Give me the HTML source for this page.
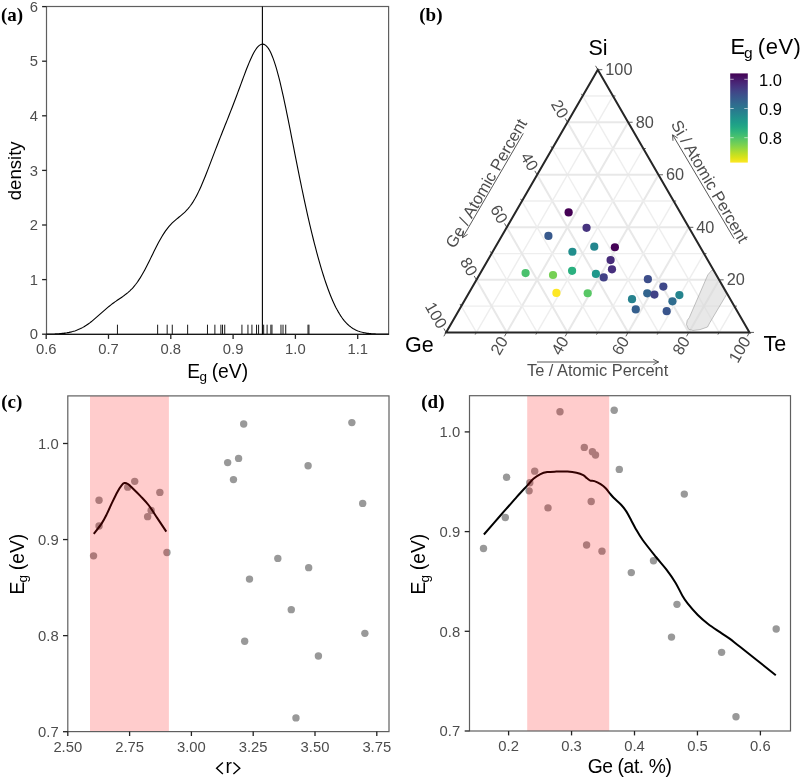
<!DOCTYPE html>
<html><head><meta charset="utf-8"><style>
html,body{margin:0;padding:0;background:#fff;}
svg{display:block;will-change:transform;}
</style></head><body>
<svg width="800" height="778" viewBox="0 0 800 778">
<rect width="800" height="778" fill="#fff"/>
<rect x="46.5" y="6.5" width="342.1" height="327.9" fill="none" stroke="#5f5f5f" stroke-width="1.2"/>
<polyline points="46.2,334.13 47.35,334.11 48.49,334.09 49.64,334.07 50.78,334.05 51.93,334.02 53.08,333.98 54.22,333.94 55.37,333.9 56.51,333.84 57.66,333.78 58.81,333.71 59.95,333.63 61.1,333.53 62.24,333.42 63.39,333.3 64.54,333.16 65.68,333 66.83,332.83 67.97,332.63 69.12,332.41 70.27,332.16 71.41,331.89 72.56,331.59 73.7,331.26 74.85,330.9 76,330.51 77.14,330.08 78.29,329.61 79.43,329.11 80.58,328.57 81.73,327.99 82.87,327.37 84.02,326.71 85.16,326.01 86.31,325.28 87.46,324.5 88.6,323.69 89.75,322.85 90.89,321.97 92.04,321.06 93.19,320.13 94.33,319.17 95.48,318.19 96.62,317.19 97.77,316.18 98.92,315.16 100.06,314.14 101.21,313.12 102.35,312.09 103.5,311.08 104.65,310.08 105.79,309.09 106.94,308.11 108.08,307.16 109.23,306.23 110.38,305.32 111.52,304.43 112.67,303.56 113.81,302.72 114.96,301.9 116.11,301.09 117.25,300.3 118.4,299.51 119.54,298.73 120.69,297.95 121.84,297.17 122.98,296.36 124.13,295.54 125.27,294.68 126.42,293.79 127.57,292.86 128.71,291.87 129.86,290.83 131,289.71 132.15,288.53 133.29,287.27 134.44,285.93 135.59,284.5 136.73,282.98 137.88,281.37 139.02,279.67 140.17,277.89 141.32,276.01 142.46,274.06 143.61,272.02 144.75,269.92 145.9,267.75 147.05,265.53 148.19,263.26 149.34,260.95 150.48,258.62 151.63,256.28 152.78,253.94 153.92,251.6 155.07,249.29 156.21,247.01 157.36,244.78 158.51,242.61 159.65,240.49 160.8,238.46 161.94,236.5 163.09,234.63 164.24,232.85 165.38,231.16 166.53,229.57 167.67,228.07 168.82,226.66 169.97,225.34 171.11,224.11 172.26,222.95 173.4,221.86 174.55,220.82 175.7,219.84 176.84,218.89 177.99,217.96 179.13,217.04 180.28,216.11 181.43,215.17 182.57,214.2 183.72,213.18 184.86,212.11 186.01,210.96 187.16,209.74 188.3,208.42 189.45,207.01 190.59,205.49 191.74,203.86 192.89,202.11 194.03,200.24 195.18,198.26 196.32,196.16 197.47,193.94 198.62,191.62 199.76,189.18 200.91,186.65 202.05,184.03 203.2,181.33 204.35,178.55 205.49,175.71 206.64,172.82 207.78,169.88 208.93,166.91 210.08,163.92 211.22,160.92 212.37,157.91 213.51,154.9 214.66,151.89 215.81,148.9 216.95,145.93 218.1,142.97 219.24,140.03 220.39,137.11 221.54,134.21 222.68,131.32 223.83,128.44 224.97,125.57 226.12,122.7 227.27,119.83 228.41,116.95 229.56,114.06 230.7,111.15 231.85,108.21 233,105.25 234.14,102.27 235.29,99.25 236.43,96.21 237.58,93.14 238.73,90.05 239.87,86.95 241.02,83.84 242.16,80.73 243.31,77.63 244.46,74.57 245.6,71.54 246.75,68.57 247.89,65.68 249.04,62.88 250.19,60.2 251.33,57.66 252.48,55.27 253.62,53.06 254.77,51.05 255.92,49.25 257.06,47.7 258.21,46.41 259.35,45.39 260.5,44.66 261.65,44.23 262.79,44.13 263.94,44.35 265.08,44.9 266.23,45.8 267.38,47.04 268.52,48.63 269.67,50.56 270.81,52.83 271.96,55.43 273.11,58.35 274.25,61.59 275.4,65.13 276.54,68.96 277.69,73.05 278.84,77.4 279.98,81.98 281.13,86.78 282.27,91.77 283.42,96.94 284.57,102.26 285.71,107.71 286.86,113.28 288,118.94 289.15,124.67 290.3,130.45 291.44,136.28 292.59,142.12 293.73,147.97 294.88,153.81 296.03,159.62 297.17,165.4 298.32,171.14 299.46,176.82 300.61,182.44 301.76,188 302.9,193.47 304.05,198.87 305.19,204.18 306.34,209.4 307.48,214.53 308.63,219.57 309.78,224.51 310.92,229.36 312.07,234.1 313.21,238.75 314.36,243.29 315.51,247.73 316.65,252.07 317.8,256.29 318.94,260.41 320.09,264.42 321.24,268.32 322.38,272.1 323.53,275.76 324.67,279.31 325.82,282.74 326.97,286.04 328.11,289.23 329.26,292.28 330.4,295.21 331.55,298.01 332.7,300.69 333.84,303.23 334.99,305.65 336.13,307.94 337.28,310.1 338.43,312.14 339.57,314.05 340.72,315.85 341.86,317.53 343.01,319.09 344.16,320.54 345.3,321.88 346.45,323.13 347.59,324.27 348.74,325.32 349.89,326.28 351.03,327.15 352.18,327.95 353.32,328.67 354.47,329.32 355.62,329.91 356.76,330.44 357.91,330.91 359.05,331.33 360.2,331.71 361.35,332.04 362.49,332.33 363.64,332.59 364.78,332.81 365.93,333.01 367.08,333.19 368.22,333.34 369.37,333.47 370.51,333.58 371.66,333.68 372.81,333.76 373.95,333.83 375.1,333.89 376.24,333.94 377.39,333.98 378.54,334.02 379.68,334.05 380.83,334.08 381.97,334.1 383.12,334.12 384.27,334.13 385.41,334.15 386.56,334.16 387.7,334.16 388.85,334.17 46.2,334.2" fill="none" stroke="#000" stroke-width="1.1"/>
<line x1="262.4" y1="6.5" x2="262.4" y2="334.4" stroke="#000" stroke-width="1.1"/>
<line x1="117.44" y1="324.7" x2="117.44" y2="334.2" stroke="#1a1a1a" stroke-width="1"/>
<line x1="157.63" y1="324.7" x2="157.63" y2="334.2" stroke="#1a1a1a" stroke-width="1"/>
<line x1="167.18" y1="324.7" x2="167.18" y2="334.2" stroke="#1a1a1a" stroke-width="1"/>
<line x1="172.27" y1="324.7" x2="172.27" y2="334.2" stroke="#1a1a1a" stroke-width="1"/>
<line x1="187.64" y1="324.7" x2="187.64" y2="334.2" stroke="#1a1a1a" stroke-width="1"/>
<line x1="207.47" y1="324.7" x2="207.47" y2="334.2" stroke="#1a1a1a" stroke-width="1"/>
<line x1="214.88" y1="324.7" x2="214.88" y2="334.2" stroke="#1a1a1a" stroke-width="1"/>
<line x1="220.9" y1="324.7" x2="220.9" y2="334.2" stroke="#1a1a1a" stroke-width="1"/>
<line x1="222.52" y1="324.7" x2="222.52" y2="334.2" stroke="#1a1a1a" stroke-width="1"/>
<line x1="224.72" y1="324.7" x2="224.72" y2="334.2" stroke="#1a1a1a" stroke-width="1"/>
<line x1="241.93" y1="324.7" x2="241.93" y2="334.2" stroke="#1a1a1a" stroke-width="1"/>
<line x1="247.95" y1="324.7" x2="247.95" y2="334.2" stroke="#1a1a1a" stroke-width="1"/>
<line x1="251.93" y1="324.7" x2="251.93" y2="334.2" stroke="#1a1a1a" stroke-width="1"/>
<line x1="256.54" y1="324.7" x2="256.54" y2="334.2" stroke="#1a1a1a" stroke-width="1"/>
<line x1="258.58" y1="324.7" x2="258.58" y2="334.2" stroke="#1a1a1a" stroke-width="1"/>
<line x1="263.67" y1="324.7" x2="263.67" y2="334.2" stroke="#1a1a1a" stroke-width="1"/>
<line x1="267.1" y1="324.7" x2="267.1" y2="334.2" stroke="#1a1a1a" stroke-width="1"/>
<line x1="270.86" y1="324.7" x2="270.86" y2="334.2" stroke="#1a1a1a" stroke-width="1"/>
<line x1="271.97" y1="324.7" x2="271.97" y2="334.2" stroke="#1a1a1a" stroke-width="1"/>
<line x1="280.98" y1="324.7" x2="280.98" y2="334.2" stroke="#1a1a1a" stroke-width="1"/>
<line x1="283.02" y1="324.7" x2="283.02" y2="334.2" stroke="#1a1a1a" stroke-width="1"/>
<line x1="285.72" y1="324.7" x2="285.72" y2="334.2" stroke="#1a1a1a" stroke-width="1"/>
<line x1="308" y1="324.7" x2="308" y2="334.2" stroke="#1a1a1a" stroke-width="1"/>
<line x1="308.95" y1="324.7" x2="308.95" y2="334.2" stroke="#1a1a1a" stroke-width="1"/>
<line x1="42.1" y1="334.2" x2="46.5" y2="334.2" stroke="#222222" stroke-width="1.3"/>
<text x="38" y="339.4" text-anchor="end" font-family="Liberation Sans, sans-serif" font-size="14.8" fill="#4d4d4d">0</text>
<line x1="42.1" y1="279.6" x2="46.5" y2="279.6" stroke="#222222" stroke-width="1.3"/>
<text x="38" y="284.8" text-anchor="end" font-family="Liberation Sans, sans-serif" font-size="14.8" fill="#4d4d4d">1</text>
<line x1="42.1" y1="225" x2="46.5" y2="225" stroke="#222222" stroke-width="1.3"/>
<text x="38" y="230.2" text-anchor="end" font-family="Liberation Sans, sans-serif" font-size="14.8" fill="#4d4d4d">2</text>
<line x1="42.1" y1="170.4" x2="46.5" y2="170.4" stroke="#222222" stroke-width="1.3"/>
<text x="38" y="175.6" text-anchor="end" font-family="Liberation Sans, sans-serif" font-size="14.8" fill="#4d4d4d">3</text>
<line x1="42.1" y1="115.8" x2="46.5" y2="115.8" stroke="#222222" stroke-width="1.3"/>
<text x="38" y="121" text-anchor="end" font-family="Liberation Sans, sans-serif" font-size="14.8" fill="#4d4d4d">4</text>
<line x1="42.1" y1="61.2" x2="46.5" y2="61.2" stroke="#222222" stroke-width="1.3"/>
<text x="38" y="66.4" text-anchor="end" font-family="Liberation Sans, sans-serif" font-size="14.8" fill="#4d4d4d">5</text>
<line x1="42.1" y1="6.6" x2="46.5" y2="6.6" stroke="#222222" stroke-width="1.3"/>
<text x="38" y="11.8" text-anchor="end" font-family="Liberation Sans, sans-serif" font-size="14.8" fill="#4d4d4d">6</text>
<line x1="46.2" y1="334.4" x2="46.2" y2="338.9" stroke="#222222" stroke-width="1.3"/>
<text x="46.2" y="354" text-anchor="middle" font-family="Liberation Sans, sans-serif" font-size="14.8" fill="#4d4d4d">0.6</text>
<line x1="108.5" y1="334.4" x2="108.5" y2="338.9" stroke="#222222" stroke-width="1.3"/>
<text x="108.5" y="354" text-anchor="middle" font-family="Liberation Sans, sans-serif" font-size="14.8" fill="#4d4d4d">0.7</text>
<line x1="170.8" y1="334.4" x2="170.8" y2="338.9" stroke="#222222" stroke-width="1.3"/>
<text x="170.8" y="354" text-anchor="middle" font-family="Liberation Sans, sans-serif" font-size="14.8" fill="#4d4d4d">0.8</text>
<line x1="233.1" y1="334.4" x2="233.1" y2="338.9" stroke="#222222" stroke-width="1.3"/>
<text x="233.1" y="354" text-anchor="middle" font-family="Liberation Sans, sans-serif" font-size="14.8" fill="#4d4d4d">0.9</text>
<line x1="295.4" y1="334.4" x2="295.4" y2="338.9" stroke="#222222" stroke-width="1.3"/>
<text x="295.4" y="354" text-anchor="middle" font-family="Liberation Sans, sans-serif" font-size="14.8" fill="#4d4d4d">1.0</text>
<line x1="357.7" y1="334.4" x2="357.7" y2="338.9" stroke="#222222" stroke-width="1.3"/>
<text x="357.7" y="354" text-anchor="middle" font-family="Liberation Sans, sans-serif" font-size="14.8" fill="#4d4d4d">1.1</text>
<text x="217.7" y="377.5" text-anchor="middle" font-family="Liberation Sans, sans-serif" font-size="19.3" fill="#000">E<tspan font-size="13.5" dx="-0.8" dy="3.6">g</tspan><tspan dx="-0.6" dy="-3.6"> (eV)</tspan></text>
<text transform="translate(21.1,170.8) rotate(-90)" text-anchor="middle" font-family="Liberation Sans, sans-serif" font-size="18.6" fill="#000">density</text>
<text x="1" y="20.6" font-family="Liberation Serif, serif" font-weight="bold" font-size="19" fill="#000">(a)</text>
<circle cx="295.97" cy="717.91" r="3.7" fill="#999999"/>
<circle cx="318.41" cy="655.93" r="3.7" fill="#999999"/>
<circle cx="244.69" cy="641.21" r="3.7" fill="#999999"/>
<circle cx="364.88" cy="633.36" r="3.7" fill="#999999"/>
<circle cx="291.26" cy="609.66" r="3.7" fill="#999999"/>
<circle cx="249.49" cy="579.09" r="3.7" fill="#999999"/>
<circle cx="308.69" cy="567.65" r="3.7" fill="#999999"/>
<circle cx="277.84" cy="558.38" r="3.7" fill="#999999"/>
<circle cx="93.54" cy="555.87" r="3.7" fill="#999999"/>
<circle cx="166.96" cy="552.48" r="3.7" fill="#999999"/>
<circle cx="99.05" cy="525.94" r="3.7" fill="#999999"/>
<circle cx="147.63" cy="516.66" r="3.7" fill="#999999"/>
<circle cx="151.13" cy="510.53" r="3.7" fill="#999999"/>
<circle cx="362.68" cy="503.41" r="3.7" fill="#999999"/>
<circle cx="99.05" cy="500.27" r="3.7" fill="#999999"/>
<circle cx="159.85" cy="492.42" r="3.7" fill="#999999"/>
<circle cx="127.7" cy="487.13" r="3.7" fill="#999999"/>
<circle cx="134.71" cy="481.33" r="3.7" fill="#999999"/>
<circle cx="233.47" cy="479.61" r="3.7" fill="#999999"/>
<circle cx="308.09" cy="465.72" r="3.7" fill="#999999"/>
<circle cx="227.66" cy="462.59" r="3.7" fill="#999999"/>
<circle cx="238.58" cy="458.41" r="3.7" fill="#999999"/>
<circle cx="243.68" cy="424.06" r="3.7" fill="#999999"/>
<circle cx="351.86" cy="422.59" r="3.7" fill="#999999"/>
<path d="M93.8,533.9 C95.12,532.15 99.52,526.73 101.7,523.4 C103.88,520.07 105.15,517.4 106.9,513.9 C108.65,510.4 110.45,506.07 112.2,502.4 C113.95,498.73 115.83,494.75 117.4,491.9 C118.97,489.05 120.43,486.77 121.6,485.3 C122.77,483.83 123.35,483.32 124.4,483.1 C125.45,482.88 126.62,483.23 127.9,484 C129.18,484.77 130,485.68 132.1,487.7 C134.2,489.72 137.7,493.13 140.5,496.1 C143.3,499.07 146.1,501.83 148.9,505.5 C151.7,509.17 154.4,513.75 157.3,518.1 C160.2,522.45 164.8,529.35 166.3,531.6" fill="none" stroke="#000" stroke-width="2"/>
<rect x="90" y="395.9" width="78.9" height="335.70000000000005" fill="#ff0000" fill-opacity="0.2"/>
<rect x="67.8" y="395.9" width="321.2" height="335.70000000000005" fill="none" stroke="#5f5f5f" stroke-width="1.2"/>
<line x1="63" y1="731.7" x2="67.8" y2="731.7" stroke="#222222" stroke-width="1.3"/>
<text x="58.7" y="736.9" text-anchor="end" font-family="Liberation Sans, sans-serif" font-size="14.8" fill="#4d4d4d">0.7</text>
<line x1="63" y1="635.63" x2="67.8" y2="635.63" stroke="#222222" stroke-width="1.3"/>
<text x="58.7" y="640.83" text-anchor="end" font-family="Liberation Sans, sans-serif" font-size="14.8" fill="#4d4d4d">0.8</text>
<line x1="63" y1="539.56" x2="67.8" y2="539.56" stroke="#222222" stroke-width="1.3"/>
<text x="58.7" y="544.76" text-anchor="end" font-family="Liberation Sans, sans-serif" font-size="14.8" fill="#4d4d4d">0.9</text>
<line x1="63" y1="443.49" x2="67.8" y2="443.49" stroke="#222222" stroke-width="1.3"/>
<text x="58.7" y="448.69" text-anchor="end" font-family="Liberation Sans, sans-serif" font-size="14.8" fill="#4d4d4d">1.0</text>
<line x1="67.8" y1="731.6" x2="67.8" y2="736" stroke="#222222" stroke-width="1.3"/>
<text x="67.8" y="751.5" text-anchor="middle" font-family="Liberation Sans, sans-serif" font-size="14.8" fill="#4d4d4d">2.50</text>
<line x1="129.6" y1="731.6" x2="129.6" y2="736" stroke="#222222" stroke-width="1.3"/>
<text x="129.6" y="751.5" text-anchor="middle" font-family="Liberation Sans, sans-serif" font-size="14.8" fill="#4d4d4d">2.75</text>
<line x1="191.4" y1="731.6" x2="191.4" y2="736" stroke="#222222" stroke-width="1.3"/>
<text x="191.4" y="751.5" text-anchor="middle" font-family="Liberation Sans, sans-serif" font-size="14.8" fill="#4d4d4d">3.00</text>
<line x1="253.2" y1="731.6" x2="253.2" y2="736" stroke="#222222" stroke-width="1.3"/>
<text x="253.2" y="751.5" text-anchor="middle" font-family="Liberation Sans, sans-serif" font-size="14.8" fill="#4d4d4d">3.25</text>
<line x1="315" y1="731.6" x2="315" y2="736" stroke="#222222" stroke-width="1.3"/>
<text x="315" y="751.5" text-anchor="middle" font-family="Liberation Sans, sans-serif" font-size="14.8" fill="#4d4d4d">3.50</text>
<line x1="376.8" y1="731.6" x2="376.8" y2="736" stroke="#222222" stroke-width="1.3"/>
<text x="376.8" y="751.5" text-anchor="middle" font-family="Liberation Sans, sans-serif" font-size="14.8" fill="#4d4d4d">3.75</text>
<text x="228.8" y="772.5" text-anchor="middle" font-family="Liberation Sans, sans-serif" font-size="19.3" fill="#000">r</text>
<path d="M222.9,762.4 L216.6,768.2 L222.9,774 M233.4,762.4 L239.8,768.2 L233.4,774" fill="none" stroke="#000" stroke-width="1.4"/>
<text transform="translate(23.6,564.1) rotate(-90)" text-anchor="middle" font-family="Liberation Sans, sans-serif" font-size="19.3" fill="#000">E<tspan font-size="13.5" dx="-0.8" dy="3.6">g</tspan><tspan dx="-0.6" dy="-3.6"> (eV)</tspan></text>
<text x="1.2" y="407.8" font-family="Liberation Serif, serif" font-weight="bold" font-size="19" fill="#000">(c)</text>
<circle cx="736" cy="716.69" r="3.7" fill="#999999"/>
<circle cx="721.6" cy="652.37" r="3.7" fill="#999999"/>
<circle cx="671.5" cy="637.09" r="3.7" fill="#999999"/>
<circle cx="776.2" cy="628.94" r="3.7" fill="#999999"/>
<circle cx="677" cy="604.35" r="3.7" fill="#999999"/>
<circle cx="631.3" cy="572.62" r="3.7" fill="#999999"/>
<circle cx="653.5" cy="560.75" r="3.7" fill="#999999"/>
<circle cx="602" cy="551.13" r="3.7" fill="#999999"/>
<circle cx="483.5" cy="548.53" r="3.7" fill="#999999"/>
<circle cx="586.6" cy="545.01" r="3.7" fill="#999999"/>
<circle cx="505.3" cy="517.46" r="3.7" fill="#999999"/>
<circle cx="548" cy="507.83" r="3.7" fill="#999999"/>
<circle cx="591.2" cy="501.47" r="3.7" fill="#999999"/>
<circle cx="684.3" cy="494.09" r="3.7" fill="#999999"/>
<circle cx="529.1" cy="490.83" r="3.7" fill="#999999"/>
<circle cx="529.8" cy="482.68" r="3.7" fill="#999999"/>
<circle cx="506.6" cy="477.18" r="3.7" fill="#999999"/>
<circle cx="534.7" cy="471.17" r="3.7" fill="#999999"/>
<circle cx="619.3" cy="469.39" r="3.7" fill="#999999"/>
<circle cx="595.5" cy="454.97" r="3.7" fill="#999999"/>
<circle cx="592.4" cy="451.72" r="3.7" fill="#999999"/>
<circle cx="584.3" cy="447.39" r="3.7" fill="#999999"/>
<circle cx="560" cy="411.74" r="3.7" fill="#999999"/>
<circle cx="614.2" cy="410.21" r="3.7" fill="#999999"/>
<path d="M483.9,534.5 C486.58,531.42 494.88,521.85 500,516 C505.12,510.15 511.1,503.37 514.6,499.4 C518.1,495.43 518.93,494.45 521,492.2 C523.07,489.95 524.88,488.17 527,485.9 C529.12,483.63 531.45,480.57 533.7,478.6 C535.95,476.63 538.25,475.18 540.5,474.1 C542.75,473.02 544.58,472.52 547.2,472.1 C549.82,471.68 552.82,471.68 556.2,471.6 C559.58,471.52 564.12,471.4 567.5,471.6 C570.88,471.8 573.88,472.2 576.5,472.8 C579.12,473.4 581.45,474.28 583.2,475.2 C584.95,476.12 585.82,477.4 587,478.3 C588.18,479.2 589.07,480.13 590.3,480.6 C591.53,481.07 592.68,480.5 594.4,481.1 C596.12,481.7 598.72,483 600.6,484.2 C602.48,485.4 604.17,486.77 605.7,488.3 C607.23,489.83 608.43,491.78 609.8,493.4 C611.17,495.02 612.02,496.12 613.9,498 C615.78,499.88 619.03,502.47 621.1,504.7 C623.17,506.93 624.58,508.73 626.3,511.4 C628.02,514.07 629.87,517.87 631.4,520.7 C632.93,523.53 633.62,525.18 635.5,528.4 C637.38,531.62 639.28,535.23 642.7,540 C646.12,544.77 652.07,552.1 656,557 C659.93,561.9 663.05,565.12 666.3,569.4 C669.55,573.68 672.82,578.32 675.5,582.7 C678.18,587.08 680.38,592.25 682.4,595.7 C684.42,599.15 685.03,600.18 687.6,603.4 C690.17,606.62 694.38,611.57 697.8,615 C701.22,618.43 704.4,621.13 708.1,624 C711.8,626.87 716.42,629.77 720,632.2 C723.58,634.63 726.27,636.17 729.6,638.6 C732.93,641.03 732.3,640.7 740,646.8 C747.7,652.9 769.83,670.47 775.8,675.2" fill="none" stroke="#000" stroke-width="2"/>
<rect x="527.2" y="395.7" width="82.0" height="335.3" fill="#ff0000" fill-opacity="0.2"/>
<rect x="469.5" y="395.7" width="321.0" height="335.3" fill="none" stroke="#5f5f5f" stroke-width="1.2"/>
<line x1="464.7" y1="731" x2="469.5" y2="731" stroke="#222222" stroke-width="1.3"/>
<text x="460.2" y="736.2" text-anchor="end" font-family="Liberation Sans, sans-serif" font-size="14.8" fill="#4d4d4d">0.7</text>
<line x1="464.7" y1="631.3" x2="469.5" y2="631.3" stroke="#222222" stroke-width="1.3"/>
<text x="460.2" y="636.5" text-anchor="end" font-family="Liberation Sans, sans-serif" font-size="14.8" fill="#4d4d4d">0.8</text>
<line x1="464.7" y1="531.6" x2="469.5" y2="531.6" stroke="#222222" stroke-width="1.3"/>
<text x="460.2" y="536.8" text-anchor="end" font-family="Liberation Sans, sans-serif" font-size="14.8" fill="#4d4d4d">0.9</text>
<line x1="464.7" y1="431.9" x2="469.5" y2="431.9" stroke="#222222" stroke-width="1.3"/>
<text x="460.2" y="437.1" text-anchor="end" font-family="Liberation Sans, sans-serif" font-size="14.8" fill="#4d4d4d">1.0</text>
<line x1="508.6" y1="731" x2="508.6" y2="735.4" stroke="#222222" stroke-width="1.3"/>
<text x="508.6" y="751.2" text-anchor="middle" font-family="Liberation Sans, sans-serif" font-size="14.8" fill="#4d4d4d">0.2</text>
<line x1="571.55" y1="731" x2="571.55" y2="735.4" stroke="#222222" stroke-width="1.3"/>
<text x="571.55" y="751.2" text-anchor="middle" font-family="Liberation Sans, sans-serif" font-size="14.8" fill="#4d4d4d">0.3</text>
<line x1="634.5" y1="731" x2="634.5" y2="735.4" stroke="#222222" stroke-width="1.3"/>
<text x="634.5" y="751.2" text-anchor="middle" font-family="Liberation Sans, sans-serif" font-size="14.8" fill="#4d4d4d">0.4</text>
<line x1="697.45" y1="731" x2="697.45" y2="735.4" stroke="#222222" stroke-width="1.3"/>
<text x="697.45" y="751.2" text-anchor="middle" font-family="Liberation Sans, sans-serif" font-size="14.8" fill="#4d4d4d">0.5</text>
<line x1="760.4" y1="731" x2="760.4" y2="735.4" stroke="#222222" stroke-width="1.3"/>
<text x="760.4" y="751.2" text-anchor="middle" font-family="Liberation Sans, sans-serif" font-size="14.8" fill="#4d4d4d">0.6</text>
<text x="629.6" y="772.7" text-anchor="middle" font-family="Liberation Sans, sans-serif" font-size="19.3" letter-spacing="-0.4" fill="#000">Ge (at. %)</text>
<text transform="translate(425,564.1) rotate(-90)" text-anchor="middle" font-family="Liberation Sans, sans-serif" font-size="19.3" fill="#000">E<tspan font-size="13.5" dx="-0.8" dy="3.6">g</tspan><tspan dx="-0.6" dy="-3.6"> (eV)</tspan></text>
<text x="421.3" y="407.8" font-family="Liberation Serif, serif" font-weight="bold" font-size="19" fill="#000">(d)</text>
<line x1="461.27" y1="306.13" x2="734.33" y2="306.13" stroke="#eeeeee" stroke-width="1.4"/>
<line x1="719.16" y1="332.4" x2="582.63" y2="95.97" stroke="#eeeeee" stroke-width="1.4"/>
<line x1="476.44" y1="332.4" x2="612.97" y2="95.97" stroke="#eeeeee" stroke-width="1.4"/>
<line x1="476.44" y1="279.86" x2="719.16" y2="279.86" stroke="#e8e8e8" stroke-width="2"/>
<line x1="688.82" y1="332.4" x2="567.46" y2="122.24" stroke="#e8e8e8" stroke-width="2"/>
<line x1="506.78" y1="332.4" x2="628.14" y2="122.24" stroke="#e8e8e8" stroke-width="2"/>
<line x1="491.61" y1="253.59" x2="703.99" y2="253.59" stroke="#eeeeee" stroke-width="1.4"/>
<line x1="658.48" y1="332.4" x2="552.29" y2="148.51" stroke="#eeeeee" stroke-width="1.4"/>
<line x1="537.12" y1="332.4" x2="643.31" y2="148.51" stroke="#eeeeee" stroke-width="1.4"/>
<line x1="506.78" y1="227.32" x2="688.82" y2="227.32" stroke="#e8e8e8" stroke-width="2"/>
<line x1="628.14" y1="332.4" x2="537.12" y2="174.78" stroke="#e8e8e8" stroke-width="2"/>
<line x1="567.46" y1="332.4" x2="658.48" y2="174.78" stroke="#e8e8e8" stroke-width="2"/>
<line x1="521.95" y1="201.05" x2="673.65" y2="201.05" stroke="#eeeeee" stroke-width="1.4"/>
<line x1="597.8" y1="332.4" x2="521.95" y2="201.05" stroke="#eeeeee" stroke-width="1.4"/>
<line x1="597.8" y1="332.4" x2="673.65" y2="201.05" stroke="#eeeeee" stroke-width="1.4"/>
<line x1="537.12" y1="174.78" x2="658.48" y2="174.78" stroke="#e8e8e8" stroke-width="2"/>
<line x1="567.46" y1="332.4" x2="506.78" y2="227.32" stroke="#e8e8e8" stroke-width="2"/>
<line x1="628.14" y1="332.4" x2="688.82" y2="227.32" stroke="#e8e8e8" stroke-width="2"/>
<line x1="552.29" y1="148.51" x2="643.31" y2="148.51" stroke="#eeeeee" stroke-width="1.4"/>
<line x1="537.12" y1="332.4" x2="491.61" y2="253.59" stroke="#eeeeee" stroke-width="1.4"/>
<line x1="658.48" y1="332.4" x2="703.99" y2="253.59" stroke="#eeeeee" stroke-width="1.4"/>
<line x1="567.46" y1="122.24" x2="628.14" y2="122.24" stroke="#e8e8e8" stroke-width="2"/>
<line x1="506.78" y1="332.4" x2="476.44" y2="279.86" stroke="#e8e8e8" stroke-width="2"/>
<line x1="688.82" y1="332.4" x2="719.16" y2="279.86" stroke="#e8e8e8" stroke-width="2"/>
<line x1="582.63" y1="95.97" x2="612.97" y2="95.97" stroke="#eeeeee" stroke-width="1.4"/>
<line x1="476.44" y1="332.4" x2="461.27" y2="306.13" stroke="#eeeeee" stroke-width="1.4"/>
<line x1="719.16" y1="332.4" x2="734.33" y2="306.13" stroke="#eeeeee" stroke-width="1.4"/>
<polygon points="707.8,274.9 711.5,270.5 713.6,270.3 726.5,294.6 709.8,322.7 707.5,327 700,329.6 693,330.5 688.5,329.2 686.5,324.5 687.2,320.5 689.3,317.6" fill="#d9d9d9" fill-opacity="0.6" stroke="#9a9a9a" stroke-width="0.6"/>
<polygon points="446.1,332.4 749.5,332.4 597.8,69.7" fill="none" stroke="#262626" stroke-width="2" stroke-linejoin="miter"/>
<line x1="749.5" y1="332.4" x2="754" y2="332.4" stroke="#333" stroke-width="0.8"/>
<line x1="597.8" y1="69.7" x2="595.55" y2="65.8" stroke="#333" stroke-width="0.8"/>
<line x1="446.1" y1="332.4" x2="443.85" y2="336.3" stroke="#333" stroke-width="0.8"/>
<line x1="734.33" y1="306.13" x2="736.83" y2="306.13" stroke="#333" stroke-width="0.8"/>
<line x1="582.63" y1="95.97" x2="581.38" y2="93.8" stroke="#333" stroke-width="0.8"/>
<line x1="476.44" y1="332.4" x2="475.19" y2="334.56" stroke="#333" stroke-width="0.8"/>
<line x1="719.16" y1="279.86" x2="723.66" y2="279.86" stroke="#333" stroke-width="0.8"/>
<line x1="567.46" y1="122.24" x2="565.21" y2="118.34" stroke="#333" stroke-width="0.8"/>
<line x1="506.78" y1="332.4" x2="504.53" y2="336.3" stroke="#333" stroke-width="0.8"/>
<line x1="703.99" y1="253.59" x2="706.49" y2="253.59" stroke="#333" stroke-width="0.8"/>
<line x1="552.29" y1="148.51" x2="551.04" y2="146.34" stroke="#333" stroke-width="0.8"/>
<line x1="537.12" y1="332.4" x2="535.87" y2="334.56" stroke="#333" stroke-width="0.8"/>
<line x1="688.82" y1="227.32" x2="693.32" y2="227.32" stroke="#333" stroke-width="0.8"/>
<line x1="537.12" y1="174.78" x2="534.87" y2="170.88" stroke="#333" stroke-width="0.8"/>
<line x1="567.46" y1="332.4" x2="565.21" y2="336.3" stroke="#333" stroke-width="0.8"/>
<line x1="673.65" y1="201.05" x2="676.15" y2="201.05" stroke="#333" stroke-width="0.8"/>
<line x1="521.95" y1="201.05" x2="520.7" y2="198.88" stroke="#333" stroke-width="0.8"/>
<line x1="597.8" y1="332.4" x2="596.55" y2="334.56" stroke="#333" stroke-width="0.8"/>
<line x1="658.48" y1="174.78" x2="662.98" y2="174.78" stroke="#333" stroke-width="0.8"/>
<line x1="506.78" y1="227.32" x2="504.53" y2="223.42" stroke="#333" stroke-width="0.8"/>
<line x1="628.14" y1="332.4" x2="625.89" y2="336.3" stroke="#333" stroke-width="0.8"/>
<line x1="643.31" y1="148.51" x2="645.81" y2="148.51" stroke="#333" stroke-width="0.8"/>
<line x1="491.61" y1="253.59" x2="490.36" y2="251.42" stroke="#333" stroke-width="0.8"/>
<line x1="658.48" y1="332.4" x2="657.23" y2="334.56" stroke="#333" stroke-width="0.8"/>
<line x1="628.14" y1="122.24" x2="632.64" y2="122.24" stroke="#333" stroke-width="0.8"/>
<line x1="476.44" y1="279.86" x2="474.19" y2="275.96" stroke="#333" stroke-width="0.8"/>
<line x1="688.82" y1="332.4" x2="686.57" y2="336.3" stroke="#333" stroke-width="0.8"/>
<line x1="612.97" y1="95.97" x2="615.47" y2="95.97" stroke="#333" stroke-width="0.8"/>
<line x1="461.27" y1="306.13" x2="460.02" y2="303.96" stroke="#333" stroke-width="0.8"/>
<line x1="719.16" y1="332.4" x2="717.91" y2="334.56" stroke="#333" stroke-width="0.8"/>
<line x1="597.8" y1="69.7" x2="602.3" y2="69.7" stroke="#333" stroke-width="0.8"/>
<line x1="446.1" y1="332.4" x2="443.85" y2="328.5" stroke="#333" stroke-width="0.8"/>
<line x1="749.5" y1="332.4" x2="747.25" y2="336.3" stroke="#333" stroke-width="0.8"/>
<text x="726.66" y="285.26" font-family="Liberation Sans, sans-serif" font-size="16.3" fill="#4d4d4d">20</text>
<text transform="translate(564.36,116.87) rotate(60)" y="5.6" text-anchor="end" font-family="Liberation Sans, sans-serif" font-size="16.3" fill="#4d4d4d">20</text>
<text transform="translate(503.68,337.77) rotate(-60)" y="5.6" text-anchor="end" font-family="Liberation Sans, sans-serif" font-size="16.3" fill="#4d4d4d">20</text>
<text x="696.32" y="232.72" font-family="Liberation Sans, sans-serif" font-size="16.3" fill="#4d4d4d">40</text>
<text transform="translate(534.02,169.41) rotate(60)" y="5.6" text-anchor="end" font-family="Liberation Sans, sans-serif" font-size="16.3" fill="#4d4d4d">40</text>
<text transform="translate(564.36,337.77) rotate(-60)" y="5.6" text-anchor="end" font-family="Liberation Sans, sans-serif" font-size="16.3" fill="#4d4d4d">40</text>
<text x="665.98" y="180.18" font-family="Liberation Sans, sans-serif" font-size="16.3" fill="#4d4d4d">60</text>
<text transform="translate(503.68,221.95) rotate(60)" y="5.6" text-anchor="end" font-family="Liberation Sans, sans-serif" font-size="16.3" fill="#4d4d4d">60</text>
<text transform="translate(625.04,337.77) rotate(-60)" y="5.6" text-anchor="end" font-family="Liberation Sans, sans-serif" font-size="16.3" fill="#4d4d4d">60</text>
<text x="635.64" y="127.64" font-family="Liberation Sans, sans-serif" font-size="16.3" fill="#4d4d4d">80</text>
<text transform="translate(473.34,274.49) rotate(60)" y="5.6" text-anchor="end" font-family="Liberation Sans, sans-serif" font-size="16.3" fill="#4d4d4d">80</text>
<text transform="translate(685.72,337.77) rotate(-60)" y="5.6" text-anchor="end" font-family="Liberation Sans, sans-serif" font-size="16.3" fill="#4d4d4d">80</text>
<text x="605.3" y="75.1" font-family="Liberation Sans, sans-serif" font-size="16.3" fill="#4d4d4d">100</text>
<text transform="translate(443,327.03) rotate(60)" y="5.6" text-anchor="end" font-family="Liberation Sans, sans-serif" font-size="16.3" fill="#4d4d4d">100</text>
<text transform="translate(746.4,337.77) rotate(-60)" y="5.6" text-anchor="end" font-family="Liberation Sans, sans-serif" font-size="16.3" fill="#4d4d4d">100</text>
<text x="527" y="376" font-family="Liberation Sans, sans-serif" font-size="16.4" fill="#4d4d4d">Te / Atomic Percent</text>
<path d="M537,362 L658.6,362 M653.25,359.28 L658.6,362 L653.25,364.72" fill="none" stroke="#3a3a3a" stroke-width="0.85"/>
<g transform="translate(705,184.3) rotate(60)"><text x="0" y="0" text-anchor="middle" font-family="Liberation Sans, sans-serif" font-size="16.4" fill="#4d4d4d">Si / Atomic Percent</text></g>
<g transform="translate(491,186.1) rotate(-60)"><text x="0" y="0" text-anchor="middle" font-family="Liberation Sans, sans-serif" font-size="16.4" fill="#4d4d4d">Ge / Atomic Percent</text></g>
<path d="M523.3,133.4 L462.5,237.7 M467.55,234.45 L462.5,237.7 L462.84,231.71" fill="none" stroke="#3a3a3a" stroke-width="0.85"/>
<path d="M734.1,238.6 L672.6,134.8 M672.98,140.79 L672.6,134.8 L677.67,138.01" fill="none" stroke="#3a3a3a" stroke-width="0.85"/>
<text x="598" y="54.7" text-anchor="middle" font-family="Liberation Sans, sans-serif" font-size="21.5" fill="#000">Si</text>
<text x="419.3" y="351.7" text-anchor="middle" font-family="Liberation Sans, sans-serif" font-size="21.5" fill="#000">Ge</text>
<text x="774.8" y="351" text-anchor="middle" font-family="Liberation Sans, sans-serif" font-size="21.5" fill="#000">Te</text>
<circle cx="556.42" cy="292.92" r="4.1" fill="#fde725"/>
<circle cx="553.01" cy="274.99" r="4.1" fill="#75d054"/>
<circle cx="587.7" cy="293.26" r="4.1" fill="#58c765"/>
<circle cx="525.59" cy="273.08" r="4.1" fill="#4ac16d"/>
<circle cx="572.09" cy="270.8" r="4.1" fill="#2ab07f"/>
<circle cx="595.92" cy="273.93" r="4.1" fill="#1f978b"/>
<circle cx="572.4" cy="251.74" r="4.1" fill="#218e8d"/>
<circle cx="594.28" cy="246.64" r="4.1" fill="#24868e"/>
<circle cx="679.39" cy="295.11" r="4.1" fill="#25848e"/>
<circle cx="632.01" cy="299.13" r="4.1" fill="#26828e"/>
<circle cx="672.44" cy="301.28" r="4.1" fill="#2f6c8e"/>
<circle cx="647.25" cy="293.29" r="4.1" fill="#32648e"/>
<circle cx="635.76" cy="309.46" r="4.1" fill="#355f8d"/>
<circle cx="548.41" cy="235.9" r="4.1" fill="#38598c"/>
<circle cx="666.71" cy="311.21" r="4.1" fill="#39558c"/>
<circle cx="647.88" cy="279.2" r="4.1" fill="#3d4e8a"/>
<circle cx="663.34" cy="286.6" r="4.1" fill="#3f4889"/>
<circle cx="654.42" cy="294.61" r="4.1" fill="#414287"/>
<circle cx="603.72" cy="277.43" r="4.1" fill="#424186"/>
<circle cx="586.56" cy="227.85" r="4.1" fill="#46337f"/>
<circle cx="611.99" cy="269.29" r="4.1" fill="#472f7d"/>
<circle cx="610.59" cy="260.11" r="4.1" fill="#472c7a"/>
<circle cx="614.88" cy="247.26" r="4.1" fill="#440256"/>
<circle cx="568.63" cy="212.4" r="4.1" fill="#440154"/>
<defs><linearGradient id="vg" x1="0" y1="0" x2="0" y2="1"><stop offset="0.000" stop-color="#440154"/><stop offset="0.050" stop-color="#471365"/><stop offset="0.100" stop-color="#482475"/><stop offset="0.150" stop-color="#463480"/><stop offset="0.200" stop-color="#414487"/><stop offset="0.250" stop-color="#3b528b"/><stop offset="0.300" stop-color="#355f8d"/><stop offset="0.350" stop-color="#2f6c8e"/><stop offset="0.400" stop-color="#2a788e"/><stop offset="0.450" stop-color="#25848e"/><stop offset="0.500" stop-color="#21918c"/><stop offset="0.550" stop-color="#1e9c89"/><stop offset="0.600" stop-color="#22a884"/><stop offset="0.650" stop-color="#2fb47c"/><stop offset="0.700" stop-color="#44bf70"/><stop offset="0.750" stop-color="#5ec962"/><stop offset="0.800" stop-color="#7ad151"/><stop offset="0.850" stop-color="#9bd93c"/><stop offset="0.900" stop-color="#bddf26"/><stop offset="0.950" stop-color="#dfe318"/><stop offset="1.000" stop-color="#fde725"/></linearGradient></defs>
<rect x="730.2" y="73.4" width="17.6" height="89.2" fill="url(#vg)"/>
<line x1="730.2" y1="137.7" x2="733.7" y2="137.7" stroke="#fff" stroke-width="0.6"/><line x1="744.3" y1="137.7" x2="747.8" y2="137.7" stroke="#fff" stroke-width="0.6"/>
<text x="759" y="144.3" font-family="Liberation Sans, sans-serif" font-size="16.5" fill="#000">0.8</text>
<line x1="730.2" y1="108.5" x2="733.7" y2="108.5" stroke="#fff" stroke-width="0.6"/><line x1="744.3" y1="108.5" x2="747.8" y2="108.5" stroke="#fff" stroke-width="0.6"/>
<text x="759" y="115.1" font-family="Liberation Sans, sans-serif" font-size="16.5" fill="#000">0.9</text>
<line x1="730.2" y1="79.3" x2="733.7" y2="79.3" stroke="#fff" stroke-width="0.6"/><line x1="744.3" y1="79.3" x2="747.8" y2="79.3" stroke="#fff" stroke-width="0.6"/>
<text x="759" y="85.9" font-family="Liberation Sans, sans-serif" font-size="16.5" fill="#000">1.0</text>
<text x="730.5" y="54.2" font-family="Liberation Sans, sans-serif" font-size="22" fill="#000">E<tspan font-size="15.5" dx="-1.2" dy="4">g</tspan><tspan dx="-1.4" dy="-4" letter-spacing="0.5"> (eV)</tspan></text>
<text x="419.3" y="20.6" font-family="Liberation Serif, serif" font-weight="bold" font-size="19" fill="#000">(b)</text>
</svg>
</body></html>
